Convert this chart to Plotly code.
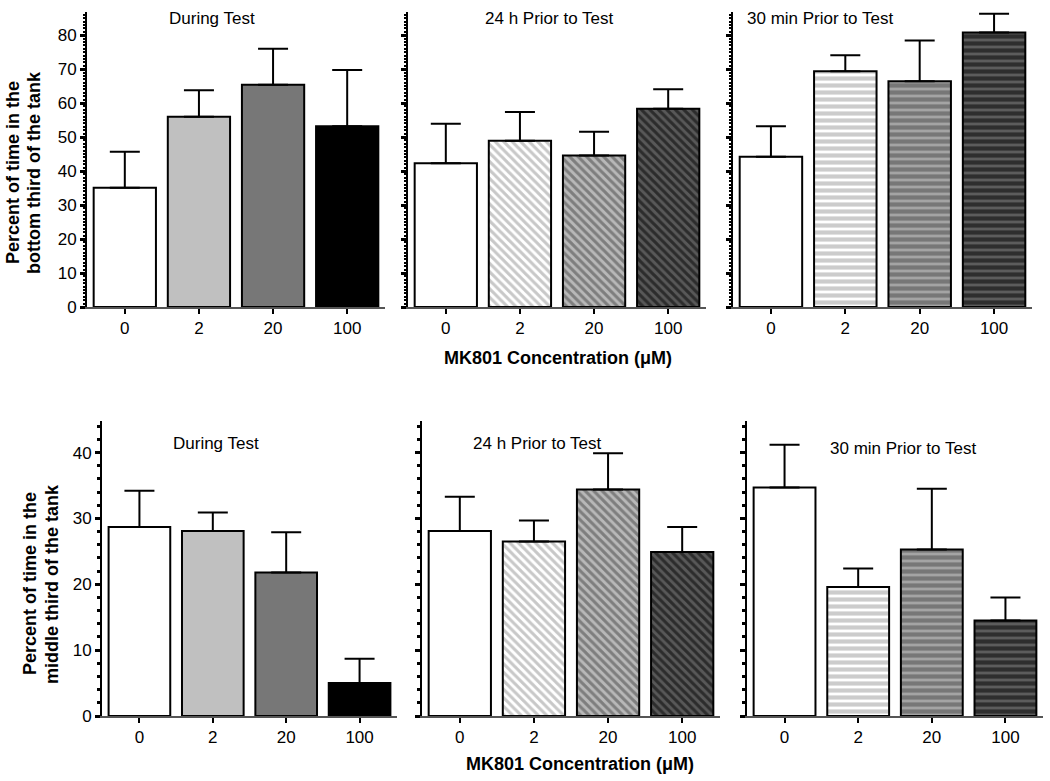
import plotly.graph_objects as go

# ---------------- data ----------------
categories = ["0", "2", "20", "100"]

bottom_during = [35.1, 56.0, 65.4, 53.2]
bottom_during_sem = [10.6, 7.8, 10.6, 16.5]
bottom_24h = [42.3, 48.9, 44.6, 58.3]
bottom_24h_sem = [11.6, 8.5, 7.0, 5.8]
bottom_30min = [44.2, 69.4, 66.4, 80.8]
bottom_30min_sem = [9.0, 4.7, 12.0, 5.5]

middle_during = [28.7, 28.1, 21.8, 5.0]
middle_during_sem = [5.5, 2.8, 6.1, 3.7]
middle_24h = [28.1, 26.5, 34.4, 24.9]
middle_24h_sem = [5.2, 3.2, 5.5, 3.8]
middle_30min = [34.7, 19.6, 25.3, 14.5]
middle_30min_sem = [6.5, 2.8, 9.2, 3.5]

panel_titles = ["During Test", "24 h Prior to Test", "30 min Prior to Test"]
ytitle_top = ["Percent of time in the", "bottom third of the tank"]
ytitle_bottom = ["Percent of time in the", "middle third of the tank"]
xtitle = "MK801 Concentration (\u03bcM)"

top_ticks = [0, 10, 20, 30, 40, 50, 60, 70, 80]
bottom_ticks = [0, 10, 20, 30, 40]

# ---------------- styling ----------------
W, H = 1050, 781
FONT = "Liberation Sans, Arial, sans-serif"


def px_x(x):
    return x / W


def px_y(y):
    return 1 - y / H


solid_colors = ["white", "#c0c0c0", "#777777", "black"]
diag_fg = ["white", "#929292", "#444444", "#000000"]
diag_bg = ["white", "#ffffff", "#b8b8b8", "#585858"]
horiz_fg = ["white", "#9a9a9a", "#4a4a4a", "#000000"]
horiz_bg = ["white", "#ffffff", "#a4a4a4", "#5c5c5c"]

fig = go.Figure()

top_x = [(87, 385), (408, 706), (733, 1032)]
bot_x = [(102, 397), (422, 720), (747, 1043)]
top_y = (12, 307)
bot_y = (421, 716)

panels = [
    (bottom_during, bottom_during_sem, "solid"),
    (bottom_24h, bottom_24h_sem, "diag"),
    (bottom_30min, bottom_30min_sem, "horiz"),
    (middle_during, middle_during_sem, "solid"),
    (middle_24h, middle_24h_sem, "diag"),
    (middle_30min, middle_30min_sem, "horiz"),
]

xpos = [0, 1, 2, 3]

for i, (vals, sems, style) in enumerate(panels):
    idx = "" if i == 0 else str(i + 1)
    for j in range(4):
        marker = dict(line=dict(color="black", width=2))
        if style == "solid" or j == 0:
            marker["color"] = solid_colors[j] if style == "solid" else "white"
        elif style == "diag":
            marker["color"] = diag_bg[j]
            marker["pattern"] = dict(shape="\\", fgcolor=diag_fg[j],
                                     bgcolor=diag_bg[j], size=6, solidity=0.52)
        else:
            marker["color"] = horiz_bg[j]
            marker["pattern"] = dict(shape="-", fgcolor=horiz_fg[j],
                                     bgcolor=horiz_bg[j], size=7, solidity=0.6)
        fig.add_trace(go.Bar(
            x=[xpos[j]], y=[vals[j]], width=0.84,
            marker=marker,
            error_y=dict(type="data", symmetric=False, array=[sems[j]],
                         arrayminus=[0], color="black", thickness=2, width=15),
            xaxis="x" + idx, yaxis="y" + idx, showlegend=False,
        ))

layout = dict(
    width=W, height=H, margin=dict(l=0, r=0, t=0, b=0, autoexpand=False),
    paper_bgcolor="white", plot_bgcolor="white",
    font=dict(family=FONT, size=17, color="black"),
    barmode="overlay",
)

for i in range(6):
    idx = "" if i == 0 else str(i + 1)
    top = i < 3
    xl, xr = (top_x if top else bot_x)[i % 3]
    yt, yb = top_y if top else bot_y
    layout["xaxis" + idx] = dict(
        domain=[px_x(xl), px_x(xr)], range=[-0.51, 3.51],
        anchor="y" + idx, tickmode="array", tickvals=xpos, ticktext=categories,
        ticks="outside", ticklen=5, tickwidth=2, tickcolor="black",
        showline=True, linecolor="#555555", linewidth=1.5,
        showgrid=False, zeroline=False, fixedrange=True,
        tickfont=dict(size=17, family=FONT, color="black"),
    )
    if top:
        yrange = [0, 86.8]
        tv = top_ticks
        minor = dict(dtick=1, tick0=0, ticks="outside", ticklen=2, tickwidth=1.5,
                     tickcolor="black", showgrid=False)
    else:
        yrange = [0, 44.8]
        tv = bottom_ticks
        minor = dict(dtick=2, tick0=0, ticks="outside", ticklen=3, tickwidth=2.5,
                     tickcolor="black", showgrid=False)
    layout["yaxis" + idx] = dict(
        domain=[px_y(yb), px_y(yt)], range=yrange, anchor="x" + idx,
        tickmode="array", tickvals=tv, showticklabels=(i % 3 == 0),
        ticks="outside", ticklen=5, tickwidth=2.5, tickcolor="black",
        minor=minor,
        showline=True, linecolor="black", linewidth=2,
        showgrid=False, zeroline=False, fixedrange=True,
        tickfont=dict(size=17, family=FONT, color="black"),
    )

annotations = []
title_pos = [(212, 19), (549, 19), (820, 19), (216, 443), (537, 443), (903, 449)]
for k, (x, y) in enumerate(title_pos):
    annotations.append(dict(
        text=panel_titles[k % 3], x=px_x(x), y=px_y(y), xref="paper", yref="paper",
        showarrow=False, xanchor="center", yanchor="middle",
        font=dict(size=17, family=FONT, color="black"),
    ))

for (x, y) in [(558, 358), (580, 764)]:
    annotations.append(dict(
        text="<b>" + xtitle + "</b>", x=px_x(x), y=px_y(y), xref="paper", yref="paper",
        showarrow=False, xanchor="center", yanchor="middle",
        font=dict(size=18, family=FONT, color="black"),
    ))

for lines, xs, yc in [(ytitle_top, (13, 34), 173), (ytitle_bottom, (30, 52), 584)]:
    for line, x in zip(lines, xs):
        annotations.append(dict(
            text="<b>" + line + "</b>", x=px_x(x), y=px_y(yc), xref="paper", yref="paper",
            showarrow=False, xanchor="center", yanchor="middle", textangle=-90,
            font=dict(size=18, family=FONT, color="black"),
        ))
layout["annotations"] = annotations

fig.update_layout(**layout)
fig.write_html("out.html", config={"displayModeBar": False},
               post_script="document.body.style.margin='0';")
